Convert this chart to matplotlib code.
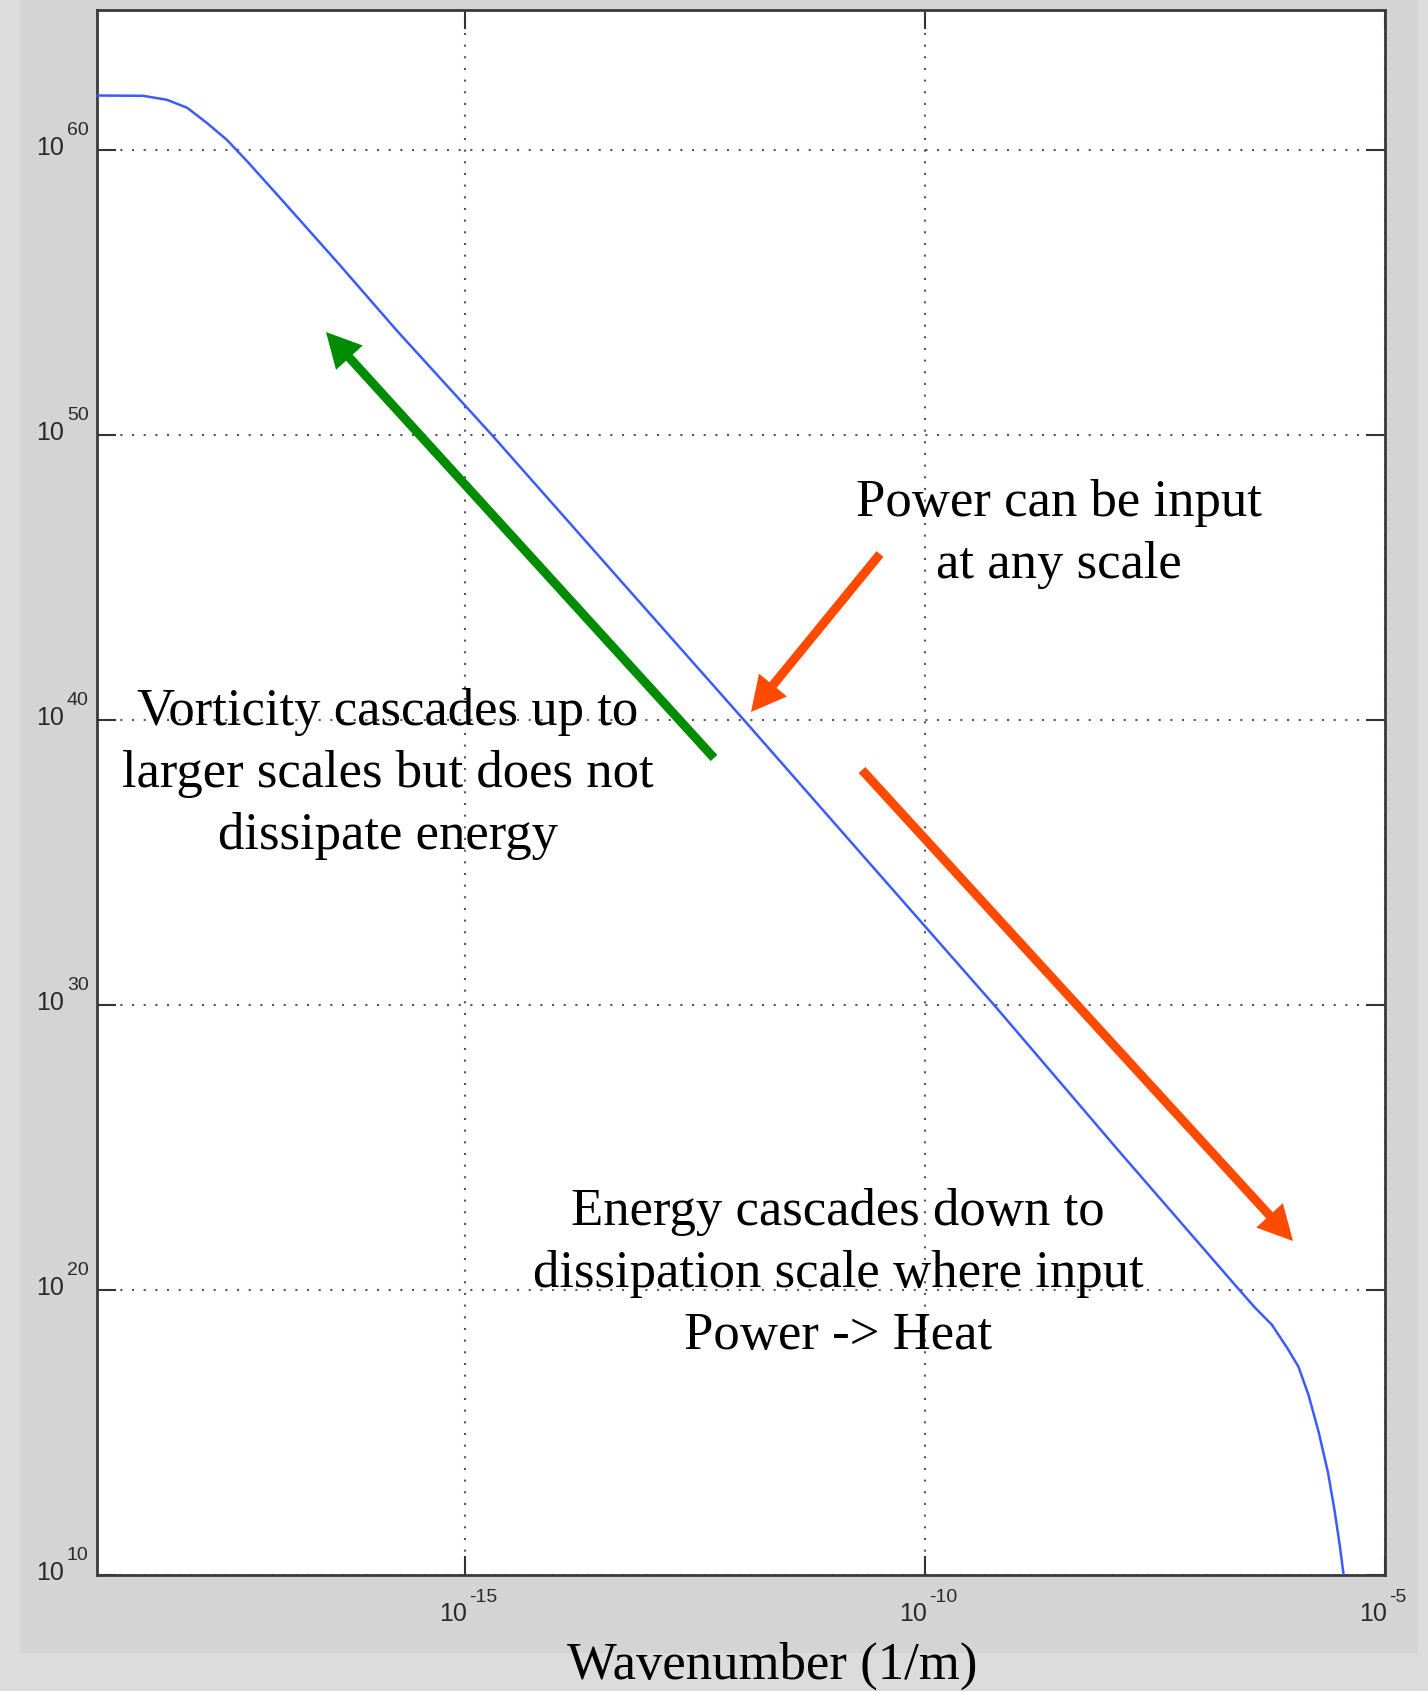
import numpy as np
import matplotlib
matplotlib.use("Agg")
import matplotlib.pyplot as plt
from matplotlib.patches import Rectangle
from matplotlib.ticker import FixedLocator, NullFormatter, NullLocator

# ---- data (log10 values) ----
log_k = [-19.0, -18.5, -18.24, -18.02, -17.81, -17.59, -17.37, -16.98, -16.36,
         -15.74, -14.71, -13.3, -11.97, -10.6, -9.25, -7.9, -6.61, -6.42,
         -6.23, -6.05, -5.94, -5.83, -5.72, -5.62, -5.55, -5.49, -5.45]
log_E = [61.90, 61.89, 61.75, 61.47, 60.95, 60.35, 59.6, 58.2, 55.95,
         53.65, 50.0, 44.85, 40.0, 34.96, 30.0, 24.9, 20.1, 19.4,
         18.78, 17.9, 17.3, 16.3, 15.0, 13.6, 12.3, 11.0, 10.0]
x_tick_exp = [-15, -10, -5]
y_tick_exp = [10, 20, 30, 40, 50, 60]
xlabel = "Wavenumber (1/m)"
txt_power = "Power can be input\nat any scale"
txt_vort = "Vorticity cascades up to\nlarger scales but does not\ndissipate energy"
txt_energy = "Energy cascades down to\ndissipation scale where input\nPower -> Heat"

k = 10.0 ** np.array(log_k)
E = 10.0 ** np.array(log_E)

W, H = 1428, 1691
fig = plt.figure(figsize=(W / 100, H / 100), dpi=100, facecolor="#dcdcdc")
# inner gray panel
fig.patches.append(Rectangle((20 / W, 1 - 1653 / H), (1418 - 20) / W, 1653 / H,
                             transform=fig.transFigure, facecolor="#d4d4d4",
                             edgecolor="none", zorder=-10))

ax = fig.add_axes([97 / W, 1 - 1575 / H, (1385 - 97) / W, (1575 - 10) / H])
ax.set_zorder(1)
ax.set_facecolor("white")
ax.set_xscale("log")
ax.set_yscale("log")
ax.set_xlim(1e-19, 1e-5)
ax.set_ylim(1e10, 10 ** 64.9)

ax.plot(k, E, color="#3a5cff", lw=1.8, zorder=3)

xt = [10.0 ** e for e in x_tick_exp]
yt = [10.0 ** e for e in y_tick_exp]
ax.xaxis.set_major_locator(FixedLocator(xt))
ax.yaxis.set_major_locator(FixedLocator(yt))
ax.xaxis.set_minor_locator(NullLocator())
ax.yaxis.set_minor_locator(NullLocator())
ax.xaxis.set_major_formatter(NullFormatter())
ax.yaxis.set_major_formatter(NullFormatter())
ax.tick_params(which="major", direction="in", length=14, width=1.5,
               color="#333333", top=True, right=True)
ax.grid(True, which="major", color="#555555", lw=1.5, linestyle=(0, (1, 4.6)))
for s in ax.spines.values():
    s.set_color("#3a3a3a")
    s.set_linewidth(2)

# MATLAB-style tick labels: "10" with a large superscript exponent
tfont = dict(fontfamily="Liberation Sans", color="#2a2a2a", annotation_clip=False)
for v, e in zip(yt, y_tick_exp):
    ax.annotate("10", xy=(0, v), xycoords=("axes fraction", "data"),
                xytext=(-33, 2), textcoords="offset pixels",
                ha="right", va="center", fontsize=18, **tfont)
    ax.annotate(str(e), xy=(0, v), xycoords=("axes fraction", "data"),
                xytext=(-30, 19), textcoords="offset pixels",
                ha="left", va="center", fontsize=14, **tfont)
for v, e in zip(xt, x_tick_exp):
    ax.annotate("10", xy=(v, 0), xycoords=("data", "axes fraction"),
                xytext=(2, -39), textcoords="offset pixels",
                ha="right", va="center", fontsize=18, **tfont)
    ax.annotate("-" + str(-e), xy=(v, 0), xycoords=("data", "axes fraction"),
                xytext=(4, -22), textcoords="offset pixels",
                ha="left", va="center", fontsize=14, **tfont)

serif = "Liberation Serif"
fs = 38
ls = 1.39
def fp(x, y):
    return (x, H - y)

fig.text(1059 / W, 1 - 534 / H, txt_power, ha="center", va="center",
         fontfamily=serif, fontsize=fs, multialignment="center", linespacing=ls,
         zorder=5)
fig.text(388 / W, 1 - 774 / H, txt_vort, ha="center", va="center",
         fontfamily=serif, fontsize=fs, multialignment="center", linespacing=ls,
         zorder=5)
fig.text(838 / W, 1 - 1274 / H, txt_energy, ha="center", va="center",
         fontfamily=serif, fontsize=fs, multialignment="center", linespacing=ls,
         zorder=5)
fig.text(772 / W, 1 - 1666 / H, xlabel, ha="center", va="center",
         fontfamily=serif, fontsize=fs, zorder=5)

def arrow(tail, tip, color):
    ax.annotate("", xy=fp(*tip), xycoords="figure pixels",
                xytext=fp(*tail), textcoords="figure pixels",
                arrowprops=dict(width=6.5, headwidth=26, headlength=25,
                                shrink=0, color=color, lw=0),
                zorder=5)

arrow((714, 758), (326, 332), "#008c00")
arrow((880, 554), (751, 712), "#ff4a00")
arrow((862, 770), (1293, 1241), "#ff4a00")

fig.savefig("out.png", dpi=100, facecolor=fig.get_facecolor())
